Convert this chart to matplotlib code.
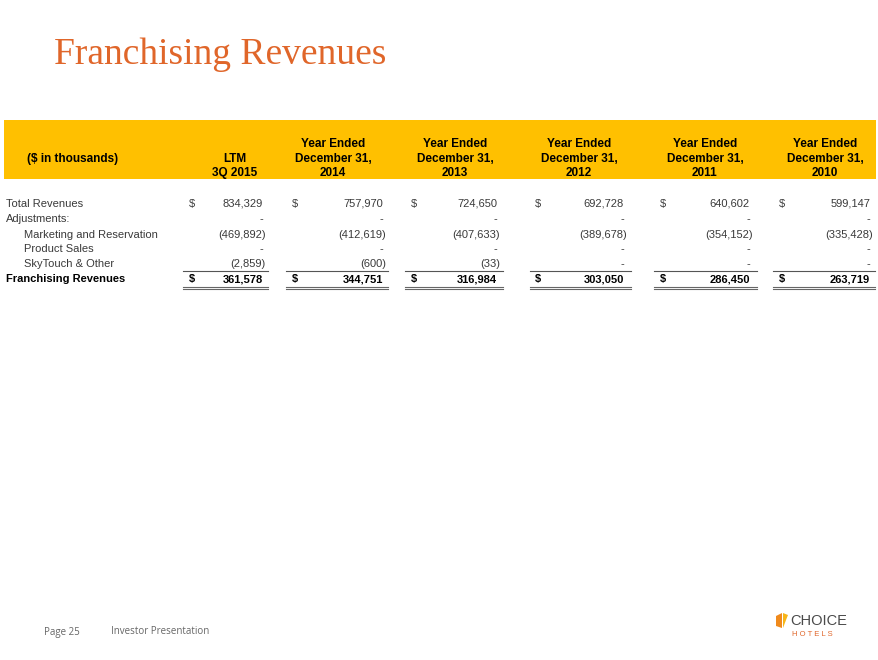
"""
Franchising revenues table slide (Investor Presentation, page 25).
"""

import matplotlib.pyplot as plt
from matplotlib.patches import Rectangle, Polygon

# column headers
col_top = ["LTM", "Year Ended", "Year Ended", "Year Ended", "Year Ended", "Year Ended"]
col_mid = ["3Q 2015", "December 31,", "December 31,", "December 31,", "December 31,", "December 31,"]
col_bot = ["", "2014", "2013", "2012", "2011", "2010"]

# values in $ thousands
total_revenues = [834329, 757970, 724650, 692728, 640602, 599147]
adjustments = [0, 0, 0, 0, 0, 0]
marketing_reservation = [-469892, -412619, -407633, -389678, -354152, -335428]
product_sales = [0, 0, 0, 0, 0, 0]
skytouch_other = [-2859, -600, -33, 0, 0, 0]
franchising_revenues = [361578, 344751, 316984, 303050, 286450, 263719]

row_labels = ["Total Revenues", "Adjustments:", "Marketing and Reservation",
              "Product Sales", "SkyTouch & Other", "Franchising Revenues"]
row_values = [total_revenues, adjustments, marketing_reservation,
              product_sales, skytouch_other, franchising_revenues]

W, H = 879, 660
ORANGE = "#E0662A"
YELLOW = "#FFC000"
BODY = "#3a3a3a"
FONT = "Liberation Sans"

fig = plt.figure(figsize=(W / 100, H / 100), dpi=100)
ax = fig.add_axes([0, 0, 1, 1])
ax.set_xlim(0, W)
ax.set_ylim(H, 0)
ax.axis("off")


def fmt(v):
    if v == 0:
        return "-"
    if v < 0:
        return f"({-v:,})"
    return f"{v:,}"


# title
ax.text(54, 64, "Franchising Revenues", fontsize=27, family="Liberation Serif",
        color=ORANGE, va="baseline", ha="left")

# header band
ax.add_patch(Rectangle((4, 120), 872, 59, color=YELLOW, lw=0))
hdr = dict(fontsize=8.5, weight="bold", family=FONT, ha="center", va="baseline")
ax.text(73, 162, "($ in thousands)", **hdr)

col_centers = [235, 333, 455, 579, 705, 825]
dollar_x = [192, 295, 414, 538, 663, 782]
value_right = [263, 383, 497, 624, 750, 870]
line_left = [183, 286, 405, 530, 654, 773]
line_right = [268, 388, 503, 631, 757, 875]

for i, cx in enumerate(col_centers):
    if col_bot[i]:
        ax.text(cx, 147, col_top[i], **hdr)
        ax.text(cx, 162, col_mid[i], **hdr)
        ax.text(cx, 176, col_bot[i], **hdr)
    else:
        ax.text(cx, 162, col_top[i], **hdr)
        ax.text(cx, 176, col_mid[i], **hdr)

# rows (baselines)
row_y = [207, 222, 238, 252, 267, 282]
indent = [6, 6, 24, 24, 24, 6]
for r, (label, vals) in enumerate(zip(row_labels, row_values)):
    y = row_y[r]
    bold = r == len(row_labels) - 1
    color = "black" if bold else BODY
    weight = "bold" if bold else "normal"
    ax.text(indent[r], y, label, fontsize=8, family=FONT, weight=weight,
            color=color, ha="left", va="baseline")
    for c, v in enumerate(vals):
        if r in (0, 5):
            ax.text(dollar_x[c], y, "$", fontsize=8, family=FONT, weight=weight,
                    color=color, ha="center", va="baseline")
        xr = value_right[c] + (3 if v < 0 else 0)
        ax.text(xr, y, fmt(v), fontsize=8, family=FONT, weight=weight,
                color=color, ha="right", va="baseline")

# underlines
for c in range(len(col_centers)):
    ax.plot([line_left[c], line_right[c]], [271, 271], color="#555555", lw=0.8)
    ax.plot([line_left[c], line_right[c]], [286.5, 286.5], color="#666666", lw=0.8)
    ax.plot([line_left[c], line_right[c]], [288.5, 288.5], color="#666666", lw=0.8)

# footer
ax.text(44, 632, "Page 25", fontsize=7, family="Open Sans", color="#666666",
        ha="left", va="center")
ax.text(111, 632, "Investor Presentation", fontsize=7, family="Open Sans",
        color="#666666", ha="left", va="center")

# logo
ax.add_patch(Polygon([(776, 616), (782, 613), (782, 628), (776, 626)],
                     closed=True, color="#F08A1C", lw=0))
ax.add_patch(Polygon([(783, 613), (788, 615), (786, 620), (783, 628)],
                     closed=True, color="#F7B518", lw=0))
ax.text(790, 621, "CHOICE", fontsize=10.5, family="Liberation Sans", color="#4a4a4a",
        ha="left", va="center")
ax.text(792, 634, "H O T E L S", fontsize=5.5, family="Liberation Sans",
        color=ORANGE, ha="left", va="center")

fig.savefig("out.png", dpi=100)
